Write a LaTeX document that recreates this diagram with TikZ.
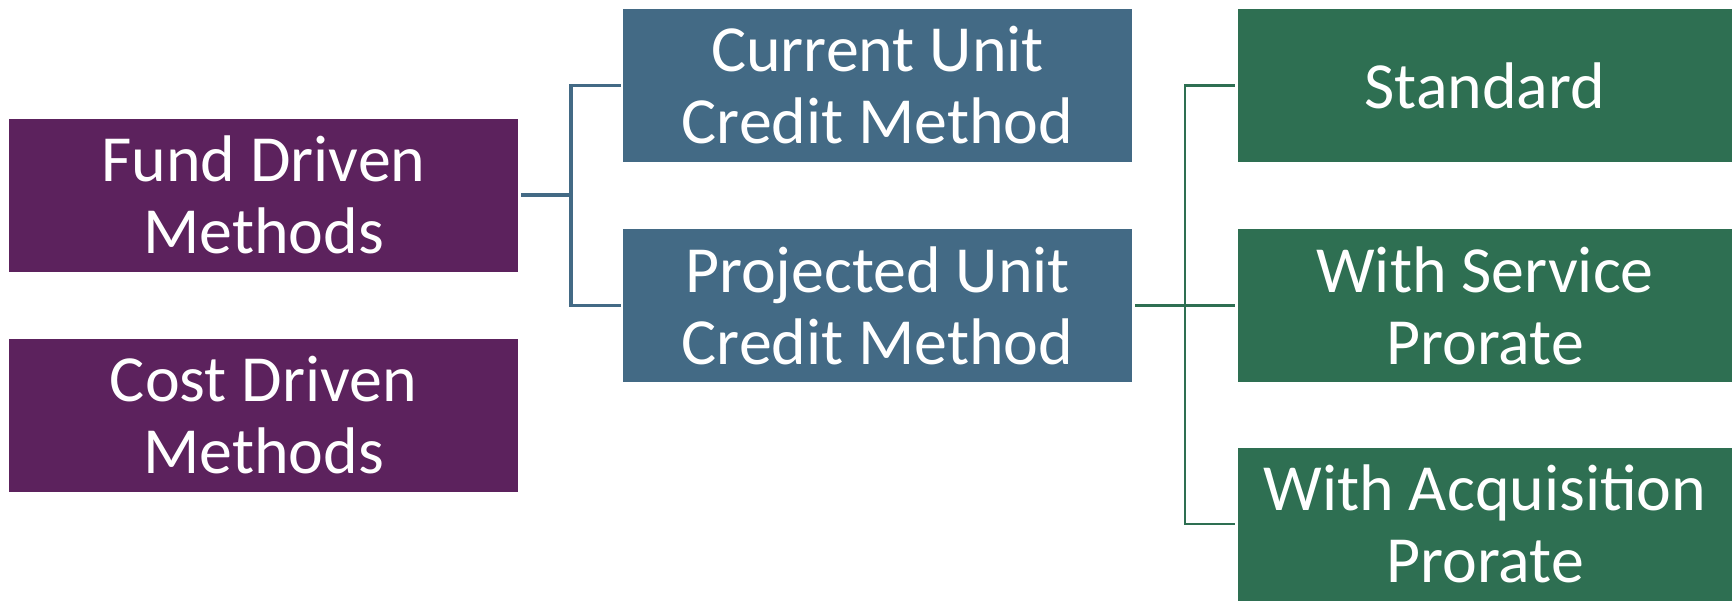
\documentclass[tikz,border=0pt]{standalone}
\usepackage{fontspec}
\setmainfont{Carlito}
\usepackage{tikz}

\definecolor{fundpurple}{RGB}{92,34,93}
\definecolor{unitblue}{RGB}{67,106,133}
\definecolor{proragreen}{RGB}{46,111,82}

\begin{document}
\begin{tikzpicture}[x=0.02cm, y=-0.02cm,
    box/.style={rectangle, inner sep=0pt, minimum width=509*0.02cm, minimum height=153*0.02cm,
        text=white, align=center, font=\fontsize{37.5}{41}\selectfont},
    fundbox/.style={box, fill=fundpurple},
    unitbox/.style={box, fill=unitblue},
    prorabox/.style={box, fill=proragreen, minimum width=494*0.02cm},
    bluelink/.style={draw=unitblue, line width=3.2*0.02cm},
    greenlink/.style={draw=proragreen, line width=2.8*0.02cm}]
        \useasboundingbox (0,0) rectangle (1732,600);

        % Methods
        \node[fundbox] (fund) at (263.5,195) {Fund Driven\\Methods};
        \node[fundbox] (cost) at (263.5,415.5) {Cost Driven\\Methods};

        % Unit credit methods
        \node[unitbox] (current) at (877.5,85.5) {Current Unit\\Credit Method};
        \node[unitbox] (projected) at (877.5,305.5) {Projected Unit\\Credit Method};

        % Prorate variants
        \node[prorabox] (standard) at (1485,85.5) {Standard};
        \node[prorabox] (service) at (1485,305.5) {With Service\\Prorate};
        \node[prorabox] (acquisition) at (1485,524) {With Acquisition\\Prorate};

        % Bus points
        \coordinate (fundbus) at (571,195);
        \coordinate (projbus) at (1185,305.5);

        % Connections from fund driven
        \draw[bluelink] ([xshift=3*0.02cm]fund.east) -- (fundbus);
        \draw[bluelink] ([xshift=-2*0.02cm]current.west) -| (fundbus) |- ([xshift=-2*0.02cm]projected.west);

        % Connections from projected unit
        \draw[greenlink] ([xshift=3*0.02cm]projected.east) -- ([xshift=-3*0.02cm]service.west);
        \draw[greenlink] ([xshift=-3*0.02cm]standard.west) -| (projbus) |- ([xshift=-3*0.02cm]acquisition.west);
    \end{tikzpicture}
\end{document}
